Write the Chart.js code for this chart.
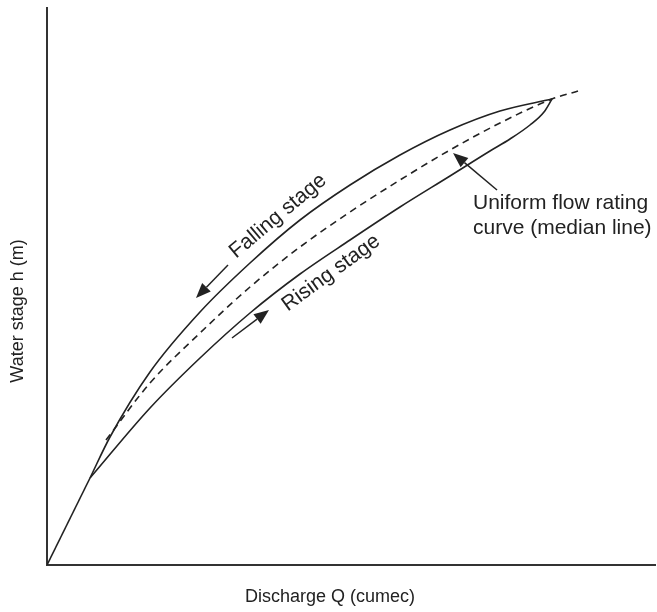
<!DOCTYPE html>
<html>
<head>
<meta charset="utf-8">
<script src="https://cdn.jsdelivr.net/npm/chart.js@4.4.1/dist/chart.umd.min.js"></script>
<style>
  body { margin: 0; background: #fff; }
</style>
</head>
<body>
<canvas id="rating" width="657" height="612"></canvas>
<script>
// Werte (Q = Abfluss, h = Wasserstand, beliebige Einheiten)
const startQ = [0, 43];
const startH = [0, 87];

const fallingQ = [43, 63, 103, 153, 203, 253, 303, 353, 403, 453, 505];
const fallingH = [87, 128, 193, 253, 302, 345, 380, 410, 435, 454, 466];

const medianQ = [59, 103, 153, 203, 253, 303, 353, 403, 453, 505, 531];
const medianH = [125, 182, 232, 278, 318, 353, 385, 415, 442, 466, 474];

const risingQ = [43, 103, 153, 203, 253, 303, 353, 403, 443, 463, 483, 497, 505];
const risingH = [87, 157, 207, 252, 291, 325, 358, 389, 414, 426, 440, 453, 466];

const xTitle = "Discharge Q (cumec)";
const yTitle = "Water stage h (m)";
const fallingLabel = "Falling stage";
const risingLabel = "Rising stage";
const medianLabel = ["Uniform flow rating", "curve (median line)"];

const INK = "#222";
const LABEL_FONT = "21px 'Liberation Sans', Arial, sans-serif";
const AXIS_FONT = "18px 'Liberation Sans', Arial, sans-serif";

function toPoints(xs, ys) {
  return xs.map((q, i) => ({ x: q, y: ys[i] }));
}

// Pfeil mit gefüllter Spitze (Koordinaten in Pixel)
function arrow(ctx, x1, y1, x2, y2) {
  const ang = Math.atan2(y2 - y1, x2 - x1);
  const len = 15, half = 6;
  const bx = x2 - len * Math.cos(ang), by = y2 - len * Math.sin(ang);
  ctx.beginPath();
  ctx.moveTo(x1, y1);
  ctx.lineTo(bx, by);
  ctx.stroke();
  ctx.beginPath();
  ctx.moveTo(x2, y2);
  ctx.lineTo(bx + half * Math.sin(ang), by - half * Math.cos(ang));
  ctx.lineTo(bx - half * Math.sin(ang), by + half * Math.cos(ang));
  ctx.closePath();
  ctx.fill();
}

const annotate = {
  id: "annotate",
  afterDraw(chart) {
    const { ctx, chartArea, scales: { x, y } } = chart;
    const px = v => x.getPixelForValue(v);
    const py = v => y.getPixelForValue(v);
    ctx.save();
    ctx.fillStyle = INK;
    ctx.strokeStyle = INK;
    ctx.lineWidth = 1.5;

    // Pfeile
    arrow(ctx, px(181), py(300), px(149), py(267));
    arrow(ctx, px(185), py(227), px(222), py(255));
    arrow(ctx, px(450), py(375), px(406), py(412));

    // schräge Beschriftungen
    ctx.font = LABEL_FONT;
    ctx.textAlign = "center";
    ctx.textBaseline = "middle";
    ctx.save();
    ctx.translate(px(231), py(349));
    ctx.rotate(-40 * Math.PI / 180);
    ctx.fillText(fallingLabel, 0, 0);
    ctx.restore();

    ctx.save();
    ctx.translate(px(284), py(292));
    ctx.rotate(-36 * Math.PI / 180);
    ctx.fillText(risingLabel, 0, 0);
    ctx.restore();

    // Median-Beschriftung
    ctx.textAlign = "left";
    ctx.fillText(medianLabel[0], px(426), py(362));
    ctx.fillText(medianLabel[1], px(426), py(337));

    // Achsentitel
    ctx.font = AXIS_FONT;
    ctx.textAlign = "center";
    ctx.fillText(xTitle, px(283), chartArea.bottom + 32);
    ctx.save();
    ctx.translate(chartArea.left - 29, py(254));
    ctx.rotate(-Math.PI / 2);
    ctx.fillText(yTitle, 0, 0);
    ctx.restore();

    ctx.restore();
  }
};

const lineStyle = {
  borderColor: INK,
  borderWidth: 1.6,
  pointRadius: 0,
  fill: false,
  cubicInterpolationMode: "monotone"
};

new Chart(document.getElementById("rating"), {
  type: "line",
  data: {
    datasets: [
      { ...lineStyle, label: "start", data: toPoints(startQ, startH), cubicInterpolationMode: "default", tension: 0 },
      { ...lineStyle, label: "falling", data: toPoints(fallingQ, fallingH) },
      { ...lineStyle, label: "median", data: toPoints(medianQ, medianH), borderDash: [7, 5] },
      { ...lineStyle, label: "rising", data: toPoints(risingQ, risingH) }
    ]
  },
  options: {
    responsive: false,
    animation: false,
    devicePixelRatio: 1,
    layout: { padding: { left: 47, top: 8, right: 2, bottom: 47 } },
    plugins: { legend: { display: false }, tooltip: { enabled: false } },
    scales: {
      x: {
        type: "linear", min: 0, max: 608,
        grid: { display: false, drawTicks: false },
        border: { display: true, color: "#333", width: 2 },
        ticks: { display: false }
      },
      y: {
        type: "linear", min: 0, max: 557,
        grid: { display: false, drawTicks: false },
        border: { display: true, color: "#333", width: 2 },
        ticks: { display: false }
      }
    }
  },
  plugins: [annotate]
});
</script>
</body>
</html>
